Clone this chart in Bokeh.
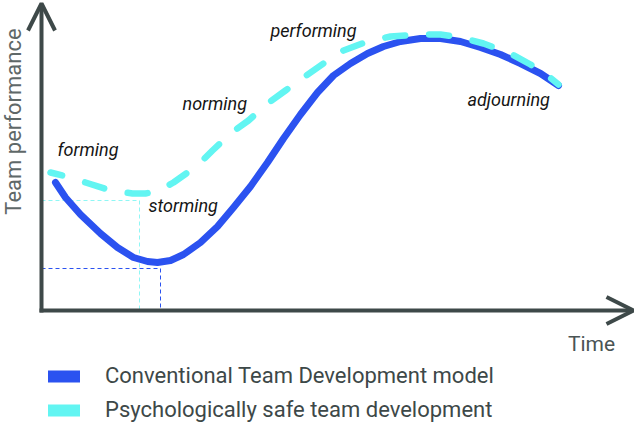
from bokeh.plotting import figure
from bokeh.models import Range1d, Arrow, OpenHead, Legend, LegendItem, Label
from bokeh.embed import file_html
from bokeh.resources import INLINE
from bokeh.core.properties import value

# ---- data (time, performance) ----
conv_time = [14, 24, 39, 59, 76, 92, 106, 116, 129, 142, 159, 176, 192, 209, 226, 242,
             259, 276, 292, 309, 326, 342, 359, 379, 399, 419, 439, 459, 479, 499, 517]
conv_perf = [128, 113, 96, 77, 63, 53, 49, 48, 50, 56, 68, 84, 103, 124, 148, 172,
             196, 218, 235, 247, 257, 264, 269, 272, 272, 269, 263, 256, 247, 237, 225]

safe_time = [9, 21, 44, 69, 91, 104, 116, 132, 156, 171, 189, 207, 226, 244, 262, 282,
             302, 326, 349, 379, 399, 419, 442, 469, 489, 506, 517]
safe_perf = [138, 135, 128, 120, 117, 117, 119, 128, 145, 160, 177, 190, 207, 220, 233, 247,
             260, 269, 274, 276, 276, 273, 267, 257, 246, 235, 226]

# reference drops at the storming phase (time, performance)
safe_dip_time = [0, 98, 98]
safe_dip_perf = [110, 110, 0]
conv_dip_time = [0, 119, 119]
conv_dip_perf = [42, 42, 0]

stage_names = ["forming", "storming", "norming", "performing", "adjourning"]
stage_time = [16, 107, 141, 229, 426]
stage_perf = [161, 105, 207, 280, 211]

series_names = ["Conventional Team Development model", "Psychologically safe team development"]

BLUE = "#2b52f0"
CYAN = "#62f5f2"
AXIS = "#3e4949"

p = figure(width=634, height=424, x_range=Range1d(-41, 593), y_range=Range1d(-114, 310),
           output_backend="svg", toolbar_location=None, min_border=0,
           x_axis_location=None, y_axis_location=None, outline_line_color=None)
p.grid.visible = False

# axes with open arrow heads
p.add_layout(Arrow(x_start=0, y_start=-2, x_end=0, y_end=307,
                   line_color=AXIS, line_width=4,
                   end=OpenHead(size=27, line_color=AXIS, line_width=4)))
p.add_layout(Arrow(x_start=-2, y_start=0, x_end=592, y_end=0,
                   line_color=AXIS, line_width=4,
                   end=OpenHead(size=27, line_color=AXIS, line_width=4)))

# thin reference lines
p.line(safe_dip_time, safe_dip_perf, line_color="#8ff7f5", line_width=1, line_dash="4 3")
p.line(conv_dip_time, conv_dip_perf, line_color=BLUE, line_width=1, line_dash="4 3")

# curves
p.line(conv_time, conv_perf, line_color=BLUE, line_width=7, line_cap="round", line_join="round")
p.line(safe_time, safe_perf, line_color=CYAN, line_width=6.5, line_cap="round", line_join="round",
       line_dash="20 24", line_dash_offset=8)

# stage labels
p.text(x=stage_time, y=stage_perf, text=stage_names, text_font=value("Roboto"),
       text_font_style="italic", text_font_size="18px", text_color="#151515",
       text_align="left", text_baseline="middle")

p.add_layout(Label(x=-28, y=189, text="Team performance", angle=1.5708,
                   text_font="Roboto", text_font_size="22px", text_color="#5f6868",
                   text_align="center", text_baseline="middle"))
p.add_layout(Label(x=550, y=-33, text="Time", text_font="Roboto", text_font_size="21px",
                   text_color="#4a5454", text_align="center", text_baseline="middle"))

# legend (renderers kept off-screen so only their legend glyphs show)
r1 = p.line(x=[-900, -800], y=[-900, -900], line_color=BLUE, line_width=12, line_cap="round")
r2 = p.line(x=[-900, -800], y=[-900, -900], line_color=CYAN, line_width=12, line_cap="round")
legend = Legend(items=[LegendItem(label=series_names[0], renderers=[r1]),
                       LegendItem(label=series_names[1], renderers=[r2])],
                location=(48, 2), orientation="vertical", border_line_color=None,
                background_fill_alpha=0, glyph_width=32, glyph_height=14,
                label_standoff=25, spacing=9, padding=0, margin=0,
                label_text_font="Roboto", label_text_font_size="22px",
                label_text_color="#3d4848", label_height=24)
p.add_layout(legend)

open("out.html", "w").write(file_html(p, INLINE))
